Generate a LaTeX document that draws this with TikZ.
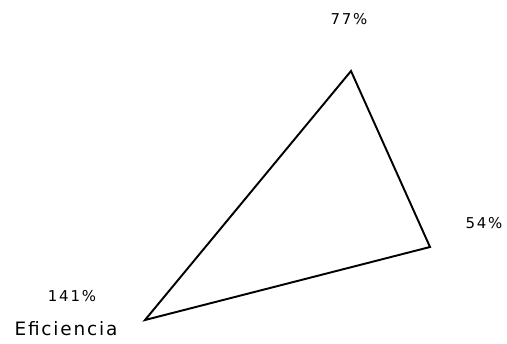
\documentclass[tikz,border=0pt]{standalone}
\usepackage{fontspec}
\setmainfont{DejaVu Sans}
\usetikzlibrary{positioning}

\begin{document}
\begin{tikzpicture}[
    x=0.02cm, y=-0.02cm,
    edge/.style={draw, line width=1.1pt, line join=miter},
    pct/.style={font=\fontsize{8.5}{10}\selectfont\addfontfeature{LetterSpace=12}, inner sep=0pt},
    axisname/.style={font=\fontsize{10.5}{12}\selectfont\addfontfeature{LetterSpace=10}, inner sep=0pt}
]
    \useasboundingbox (0,0) rectangle (507,343);

    % Vertices
    \coordinate (top) at (351,71);
    \coordinate (right) at (430,247);
    \coordinate (left) at (145,320);

    % Labels
    \node[pct] (toplbl) at (349,19) {77\%};
    \node[pct] (rightlbl) at (484,223) {54\%};
    \node[pct] (leftlbl) at (72,296) {141\%};
    \node[axisname] (leftname) at (66,329) {Eficiencia};

    % Triangle
    \draw[edge] (top) -- (right) -- (left) -- cycle;

\end{tikzpicture}
\end{document}
